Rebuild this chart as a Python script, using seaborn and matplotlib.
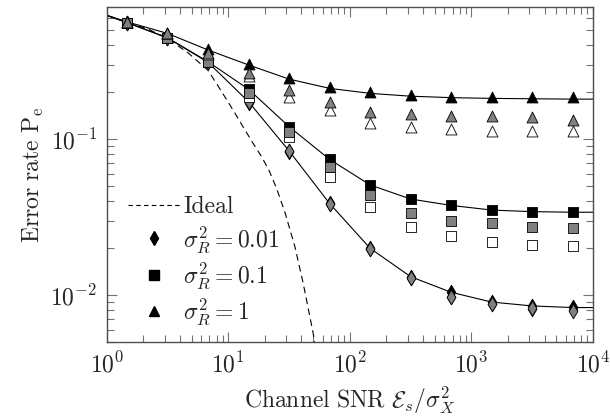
import numpy as np
import matplotlib
matplotlib.use("Agg")
import matplotlib.pyplot as plt
import seaborn as sns
from matplotlib.lines import Line2D

# =========================
# DATA
# =========================
snr = [1.47, 3.16, 6.81, 14.7, 31.6, 68.1, 147, 316, 681, 1468, 3162, 6813]

# theory curves (solid), drawn on a grid that also covers the axis ends
curve_snr = [1, 1.47, 3.16, 6.81, 14.7, 31.6, 68.1, 147, 316, 681, 1468, 3162, 6813, 10000]
curve_r001 = [0.62, 0.557, 0.445, 0.31, 0.173, 0.0839, 0.0386, 0.0199, 0.0131, 0.0104, 0.0090, 0.0085, 0.0083, 0.0083]
curve_r01 = [0.62, 0.557, 0.445, 0.313, 0.208, 0.120, 0.074, 0.0507, 0.0412, 0.0375, 0.0350, 0.0342, 0.0339, 0.0339]
curve_r1 = [0.62, 0.563, 0.475, 0.372, 0.298, 0.242, 0.211, 0.196, 0.188, 0.184, 0.182, 0.181, 0.180, 0.180]

# ideal curve (dashed)
ideal_snr = [1, 1.47, 2.2, 3.16, 4.7, 6.82, 8.51, 10.96, 13.2, 16.0, 18.8, 21.7, 25, 29.2, 35.3, 41.3, 49.9, 53]
ideal_pe = [0.62, 0.56, 0.505, 0.44, 0.355, 0.275, 0.21, 0.153, 0.120, 0.0937, 0.0769, 0.0625, 0.048, 0.034,
            0.0204, 0.0119, 0.0057, 0.0042]

# simulated points: black / gray / white markers
dia_black = [0.557, 0.445, 0.31, 0.173, 0.0839, 0.0386, 0.0199, 0.0131, 0.0105, 0.00905, 0.00853, 0.0084]
dia_gray = [0.557, 0.445, 0.31, 0.172, 0.0835, 0.0383, 0.0197, 0.0129, 0.00975, 0.0088, 0.0083, 0.0079]
dia_white = [0.557, 0.445, 0.31, 0.171, 0.083, 0.038, 0.0196, 0.0128, 0.0097, 0.0087, 0.0081, 0.0080]

sq_black = [0.557, 0.445, 0.313, 0.208, 0.120, 0.074, 0.0507, 0.0412, 0.0377, 0.0351, 0.0342, 0.0339]
sq_gray = [0.557, 0.445, 0.313, 0.196, 0.111, 0.0664, 0.0437, 0.0337, 0.0299, 0.0288, 0.0274, 0.0268]
sq_white = [0.557, 0.445, 0.313, 0.186, 0.103, 0.0573, 0.0368, 0.0274, 0.0239, 0.022, 0.0209, 0.0207]

tri_black = [0.563, 0.475, 0.375, 0.302, 0.245, 0.214, 0.200, 0.191, 0.186, 0.186, 0.186, 0.186]
tri_gray = [0.563, 0.475, 0.355, 0.265, 0.206, 0.173, 0.149, 0.144, 0.140, 0.140, 0.139, 0.132]
tri_white = [0.563, 0.475, 0.35, 0.253, 0.186, 0.153, 0.127, 0.120, 0.116, 0.113, 0.112, 0.113]

legend_labels = ["Ideal", r"$\sigma_R^2 = 0.01$", r"$\sigma_R^2 = 0.1$", r"$\sigma_R^2 = 1$"]

# =========================
# STYLE
# =========================
sns.set_style("ticks")
plt.rcParams["mathtext.fontset"] = "cm"
plt.rcParams["font.family"] = ["cmr10", "DejaVu Serif"]
plt.rcParams["axes.formatter.use_mathtext"] = True
plt.rcParams["font.size"] = 17

fig, ax = plt.subplots(figsize=(6.1, 4.2), dpi=100)
fig.subplots_adjust(left=0.175, right=0.972, top=0.983, bottom=0.186)

# =========================
# CURVES
# =========================
sns.lineplot(x=ideal_snr, y=ideal_pe, ax=ax, color="black", lw=0.8,
             linestyle=(0, (6, 4)), sort=False, zorder=2)
for c in [curve_r001, curve_r01, curve_r1]:
    sns.lineplot(x=curve_snr, y=c, ax=ax, color="black", lw=0.8, sort=False, zorder=2)

# =========================
# MARKERS
# =========================
fills = ["white", "black", "0.5"]
groups = [
    ("d", 55, [dia_white, dia_black, dia_gray]),
    ("s", 62, [sq_white, sq_black, sq_gray]),
    ("^", 62, [tri_white, tri_black, tri_gray]),
]
z = 3
for marker, size, series in groups:
    for fc, vals in zip(fills, series):
        sns.scatterplot(x=snr, y=vals, ax=ax, marker=marker, s=size, color=fc,
                        edgecolor="black", linewidth=0.6, zorder=z)
        z += 1

ax.set_xscale("log")
ax.set_yscale("log")
ax.set_xlim(1, 1e4)
ax.set_ylim(0.005, 0.7)

ax.set_xlabel(r"$\mathrm{Channel\ SNR}\ \mathcal{E}_s/\sigma_X^2$", labelpad=6)
ax.set_ylabel(r"$\mathrm{Error\ rate\ P}_\mathrm{e}$", labelpad=3)

ax.tick_params(which="both", direction="in", top=True, right=True, color="0.45", width=0.8)
ax.tick_params(which="major", length=7.5, pad=7)
ax.tick_params(which="minor", length=5)
ax.xaxis.set_major_locator(matplotlib.ticker.LogLocator(base=10, numticks=10))
ax.xaxis.set_minor_locator(matplotlib.ticker.LogLocator(base=10, subs=np.arange(2, 10), numticks=20))
ax.yaxis.set_minor_locator(matplotlib.ticker.LogLocator(base=10, subs=np.arange(2, 10), numticks=20))
ax.xaxis.set_minor_formatter(matplotlib.ticker.NullFormatter())
ax.yaxis.set_minor_formatter(matplotlib.ticker.NullFormatter())
for sp in ax.spines.values():
    sp.set_color("0.3")
    sp.set_linewidth(1.0)

# =========================
# LEGEND
# =========================
handles = [
    Line2D([], [], color="black", lw=0.8, linestyle=(0, (4, 3))),
    Line2D([], [], color="black", marker="d", ms=7.5, lw=0),
    Line2D([], [], color="black", marker="s", ms=7.5, lw=0),
    Line2D([], [], color="black", marker="^", ms=7.5, lw=0),
]
ax.legend(handles, legend_labels, loc="lower left", bbox_to_anchor=(0.0, -0.02),
          frameon=False, handlelength=2.2, handletextpad=0.15, labelspacing=0.25)

fig.savefig("out.png", dpi=100)
